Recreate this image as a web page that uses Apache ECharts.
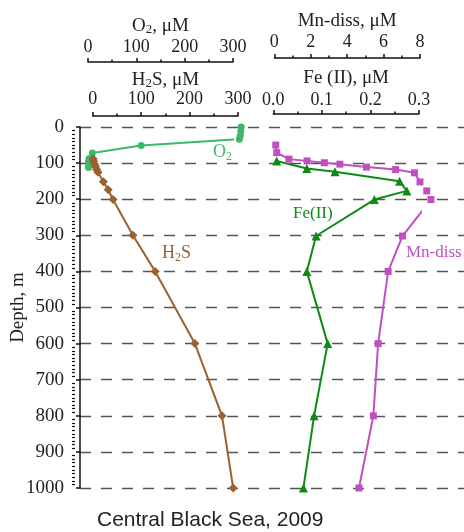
<!DOCTYPE html>
<html>
<head>
<meta charset="utf-8">
<script src="https://cdn.jsdelivr.net/npm/echarts@6/dist/echarts.min.js"></script>
<style>html,body{margin:0;padding:0;background:#fff}#c{width:464px;height:532px}</style>
</head>
<body>
<div id="c"></div>
<script>
// ---- data ----
const depthTicks = [0,100,200,300,400,500,600,700,800,900,1000];
const o2Depth = [0, 12, 24, 34, 51, 72, 88, 96, 104, 112];
const o2Value = [317, 316, 315, 313, 110, 9, 2, 1, 1, 1];
const h2sDepth = [88, 95, 103, 110, 118, 125, 152, 174, 201, 300, 400, 600, 800, 1000];
const h2sValue = [1, 2, 4, 6, 8, 11, 22, 32, 42, 83, 129, 211, 267, 290];
const mnDepth = [50, 71, 89, 94, 99, 103, 111, 118, 127, 152, 177, 201, 302, 400, 600, 800, 1000];
const mnValue = [0.08, 0.13, 0.8, 1.8, 2.75, 3.6, 5.06, 6.66, 7.7, 8.0, 8.37, 8.6, 7.04, 6.25, 5.7, 5.44, 4.65];
const feDepth = [94, 115, 124, 150, 177, 201, 302, 400, 600, 800, 1000];
const feValue = [0.007, 0.069, 0.127, 0.26, 0.275, 0.208, 0.088, 0.069, 0.112, 0.084, 0.062];

const C_O2 = '#3cb96a', C_H2S = '#9b6230', C_FE = '#0f8a14', C_MN = '#c050c0';
const SERIF = '"Liberation Serif","DejaVu Serif",serif';

function pairs(d, v){ return d.map((y,i)=>[v[i], y]); }

const chart = echarts.init(document.getElementById('c'), null, {renderer:'canvas'});

const TOP = 127, H = 361;
const subRich = {
  a:{fontFamily:SERIF, fontSize:19, lineHeight:22, color:'#222'},
  s:{fontFamily:SERIF, fontSize:13, lineHeight:22, color:'#222', padding:[8,0,0,0]}
};
function topAxis(grid, min, max, interval, offset, name, nameGap, margin, fmt){
  return {
    gridIndex: grid, type:'value', position:'top', offset: offset,
    min:min, max:max, interval:interval,
    axisLine:{show:true, onZero:false, lineStyle:{color:'#111', width:1.5}},
    axisTick:{show:true, length:4, lineStyle:{color:'#111', width:1.5}},
    minorTick:{show:true, splitNumber:2, length:2.5, lineStyle:{color:'#111', width:1.5}},
    splitLine:{show:false},
    axisLabel:{show:true, margin:margin, color:'#222', fontFamily:SERIF, fontSize:18, formatter: fmt, hideOverlap:false},
    name: name, nameLocation:'middle', nameGap:nameGap, nameMoveOverlap:false,
    nameTextStyle:{color:'#222', fontFamily:SERIF, fontSize:19, rich:subRich}
  };
}
function hiddenY(grid){
  return {gridIndex:grid, type:'value', inverse:true, min:0, max:1000, show:false, splitLine:{show:false}};
}
function g(obj){ return Object.assign({top:TOP, height:H, outerBoundsMode:'none', containLabel:false}, obj); }

const option = {
  animation:false,
  backgroundColor:'#fff',
  grid:[
    g({left:80, right:0}),
    g({left:88, width:145}),
    g({left:92.7, width:145.3}),
    g({left:274.3, width:145.7}),
    g({left:273.3, width:145.7}),
    g({left:72, width:10})
  ],
  xAxis:[
    {gridIndex:0, type:'value', min:0, max:1, show:false},
    topAxis(1, 0, 300, 100, 65, '{a|O}{s|2}{a|, μM}', 25, 6, v=>String(v)),
    topAxis(2, 0, 300, 100, 11, '{a|H}{s|2}{a|S, μM}', 25, 8, v=>String(v)),
    topAxis(3, 0, 8, 2, 69, 'Mn-diss, μM', 27, 7, v=>String(v)),
    topAxis(4, 0, 0.3, 0.1, 13, 'Fe (II), μM', 26, 5, v=>v.toFixed(1)),
    {gridIndex:5, type:'value', min:0, max:1, show:false}
  ],
  yAxis:[
    {gridIndex:0, type:'value', inverse:true, min:0, max:1000, interval:100, offset:8,
      axisLine:{show:true, lineStyle:{color:'#111', width:1.5}},
      axisTick:{show:true, length:4, lineStyle:{color:'#111', width:1.5}},
      axisLabel:{color:'#222', fontFamily:SERIF, fontSize:19, margin:8, hideOverlap:false,
        formatter:v=> depthTicks.indexOf(v) >= 0 ? String(v) : ''},
      splitLine:{show:true, lineStyle:{color:'#555', width:1.3, type:[11,10]}},
      name:'Depth, m', nameLocation:'middle', nameRotate:90, nameGap:44, nameMoveOverlap:false,
      nameTextStyle:{color:'#222', fontFamily:SERIF, fontSize:19}
    },
    hiddenY(1), hiddenY(2), hiddenY(3), hiddenY(4),
    {gridIndex:5, type:'value', inverse:true, min:0, max:1000, interval:100, position:'left',
      axisLine:{show:false}, axisLabel:{show:false}, splitLine:{show:false},
      axisTick:{show:false, inside:true},
      minorTick:{show:true, splitNumber:10, length:3, lineStyle:{color:'#111', width:1.2}}
    }
  ],
  series:[
    {type:'line', name:'O2', xAxisIndex:1, yAxisIndex:1, data:pairs(o2Depth,o2Value), clip:false,
      symbol:'circle', symbolSize:7, lineStyle:{color:C_O2, width:2}, itemStyle:{color:C_O2}},
    {type:'line', name:'H2S', xAxisIndex:2, yAxisIndex:2, data:pairs(h2sDepth,h2sValue), clip:false,
      symbol:'diamond', symbolSize:9, lineStyle:{color:C_H2S, width:2}, itemStyle:{color:C_H2S}},
    {type:'line', name:'Mn', xAxisIndex:3, yAxisIndex:3, data:pairs(mnDepth,mnValue), clip:false,
      symbol:'rect', symbolSize:7, lineStyle:{color:C_MN, width:2}, itemStyle:{color:C_MN}},
    {type:'line', name:'Fe', xAxisIndex:4, yAxisIndex:4, data:pairs(feDepth,feValue), clip:false,
      symbol:'triangle', symbolSize:9, lineStyle:{color:C_FE, width:2}, itemStyle:{color:C_FE}}
  ],
  graphic:[
    {type:'text', left:213, top:143, style:{text:'{a|O}{s|2}', fill:C_O2,
      rich:{a:{fontFamily:SERIF, fontSize:18, fill:C_O2}, s:{fontFamily:SERIF, fontSize:12, fill:C_O2, padding:[9,0,0,0]}}}},
    {type:'text', left:162, top:244, style:{text:'{a|H}{s|2}{a|S}', fill:C_H2S,
      rich:{a:{fontFamily:SERIF, fontSize:18, fill:C_H2S}, s:{fontFamily:SERIF, fontSize:12, fill:C_H2S, padding:[9,0,0,0]}}}},
    {type:'text', left:293, top:205, style:{text:'Fe(II)', fill:C_FE, font:'17px '+SERIF}},
    {type:'text', left:406, top:244, style:{text:'Mn-diss', fill:C_MN, font:'17px '+SERIF}},
    {type:'text', left:97, top:510, style:{text:'Central Black Sea, 2009', fill:'#222', font:'21px "Liberation Sans", Arial, sans-serif'}}
  ]
};
chart.setOption(option);
</script>
</body>
</html>
